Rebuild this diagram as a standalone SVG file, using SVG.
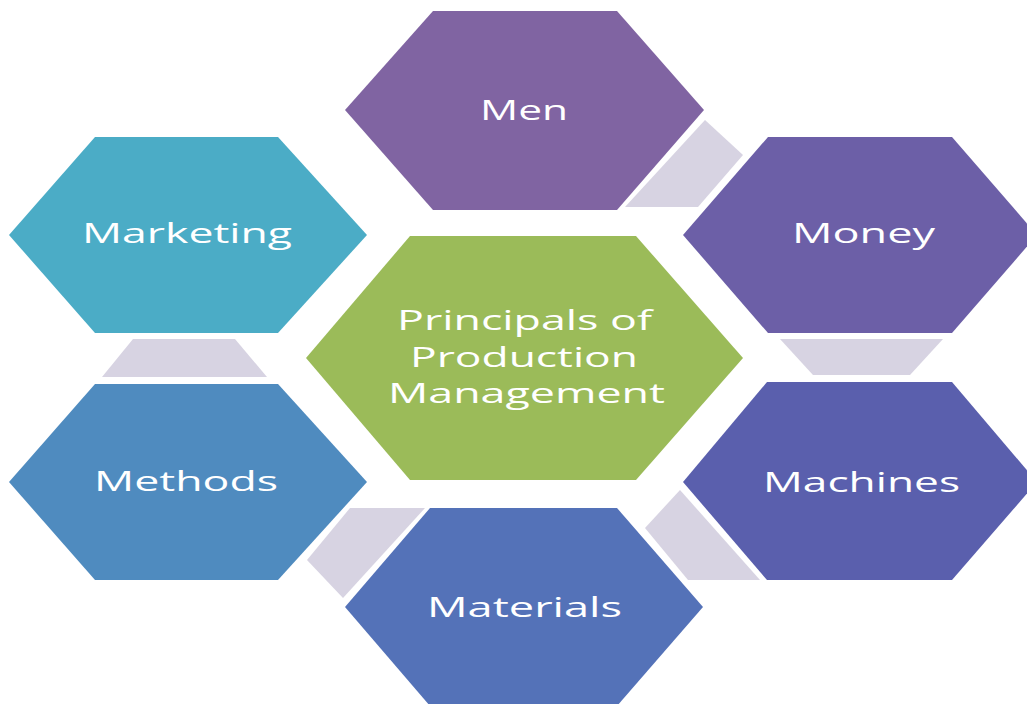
<svg xmlns="http://www.w3.org/2000/svg" width="1027" height="704" viewBox="0 0 1027 704">
<style>
.lbl{font-family:"Open Sans","DejaVu Sans",sans-serif;font-size:28px;fill:#ffffff;}
.conn{fill:#D7D3E2;}
</style>
<rect width="1027" height="704" fill="#ffffff"/>
<g id="connectors">
<polygon class="conn" points="705,120 743,155 698,207 625,207"/>
<polygon class="conn" points="133,339 235,339 267,377 102,377"/>
<polygon class="conn" points="780,339 943,339 910,375 813,375"/>
<polygon class="conn" points="350,508 425,508 343,598 307,560"/>
<polygon class="conn" points="680,490 760,580 688,580 645,528"/>
</g>
<g id="men">
<polygon points="345,110 433,11 617,11 704,110 617,210 433,210" fill="#8064A2"/>
<text class="lbl" x="480" y="120" textLength="88" lengthAdjust="spacingAndGlyphs">Men</text>
</g>
<g id="money">
<polygon points="683,235 768,137 952,137 1037,235 952,333 768,333" fill="#6C5FA7"/>
<text class="lbl" x="792" y="243" textLength="143" lengthAdjust="spacingAndGlyphs">Money</text>
</g>
<g id="marketing">
<polygon points="9,235 95,137 278,137 367,235 278,333 95,333" fill="#4BACC6"/>
<text class="lbl" x="82" y="243" textLength="210" lengthAdjust="spacingAndGlyphs">Marketing</text>
</g>
<g id="center">
<polygon points="306,358 410,236 636,236 743,358 636,480 410,480" fill="#9BBB59"/>
<text class="lbl" x="397" y="330" textLength="255" lengthAdjust="spacingAndGlyphs">Principals of</text>
<text class="lbl" x="410" y="367" textLength="228" lengthAdjust="spacingAndGlyphs">Production</text>
<text class="lbl" x="388" y="403" textLength="277" lengthAdjust="spacingAndGlyphs">Management</text>
</g>
<g id="methods">
<polygon points="9,482 95,384 278,384 367,482 278,580 95,580" fill="#4F8BBF"/>
<text class="lbl" x="94" y="491" textLength="184" lengthAdjust="spacingAndGlyphs">Methods</text>
</g>
<g id="machines">
<polygon points="683,482 767,382 952,382 1037,482 952,580 767,580" fill="#5A5FAD"/>
<text class="lbl" x="763" y="492" textLength="197" lengthAdjust="spacingAndGlyphs">Machines</text>
</g>
<g id="materials">
<polygon points="345,607 430,508 617,508 703,607 617,706 430,706" fill="#5472B8"/>
<text class="lbl" x="427" y="617" textLength="195" lengthAdjust="spacingAndGlyphs">Materials</text>
</g>
</svg>
